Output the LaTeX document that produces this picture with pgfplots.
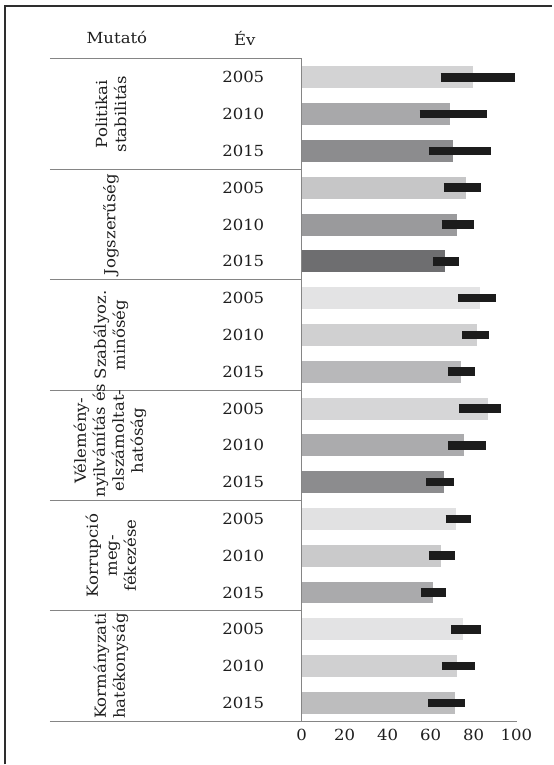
\documentclass[border=0pt]{standalone}
\usepackage{fontspec}
\setmainfont{DejaVu Serif}[FakeStretch=1.08]
\usepackage{pgfplots}
\pgfplotsset{compat=1.18}
\usetikzlibrary{calc}
\definecolor{g1}{HTML}{D3D3D4}
\definecolor{g2}{HTML}{A8A8AA}
\definecolor{g3}{HTML}{8C8C8E}
\definecolor{g4}{HTML}{C6C6C7}
\definecolor{g5}{HTML}{9A9A9C}
\definecolor{g6}{HTML}{6E6E70}
\definecolor{g7}{HTML}{E3E3E4}
\definecolor{g8}{HTML}{D0D0D1}
\definecolor{g9}{HTML}{B8B8BA}
\definecolor{g10}{HTML}{D6D6D7}
\definecolor{g11}{HTML}{ABABAD}
\definecolor{g12}{HTML}{8C8C8E}
\definecolor{g13}{HTML}{E1E1E2}
\definecolor{g14}{HTML}{CACACB}
\definecolor{g15}{HTML}{AAAAAC}
\definecolor{g16}{HTML}{E3E3E4}
\definecolor{g17}{HTML}{D0D0D1}
\definecolor{g18}{HTML}{BDBDBE}
\definecolor{rng}{HTML}{1C1C1C}
\definecolor{framec}{HTML}{2E2E2E}
\definecolor{tablec}{HTML}{858585}
\definecolor{txt}{HTML}{1E1E1E}
\begin{document}
\begin{tikzpicture}[font=\fontsize{15.3}{19}\selectfont]
\begin{axis}[name=ax,
  scale only axis, width=215pt, height=663pt,
  xmin=0, xmax=100, ymin=0, ymax=18, y dir=reverse,
  axis line style={draw=none}, tick style={draw=none}, major tick length=0pt,
  clip=false,
  xtick={0,20,40,60,80,100},
  ytick={0.5,1.5,...,17.5},
  yticklabels={2005,2010,2015,2005,2010,2015,2005,2010,2015,2005,2010,2015,2005,2010,2015,2005,2010,2015},
  tick label style={font=\fontsize{15.3}{18}\selectfont, text=txt},
  /pgf/number format/assume math mode=true,
  xticklabel style={yshift=-4pt},
  yticklabel style={anchor=center, xshift=-58.5pt},
  gbar/.style={xbar, bar width=22pt, bar shift=0pt, draw=none, fill=#1},
]
\addplot[gbar=g1]  coordinates {(79.7,0.5)};
\addplot[gbar=g2]  coordinates {(69.0,1.5)};
\addplot[gbar=g3]  coordinates {(70.6,2.5)};
\addplot[gbar=g4]  coordinates {(76.7,3.5)};
\addplot[gbar=g5]  coordinates {(72.1,4.5)};
\addplot[gbar=g6]  coordinates {(66.8,5.5)};
\addplot[gbar=g7]  coordinates {(83.1,6.5)};
\addplot[gbar=g8]  coordinates {(81.4,7.5)};
\addplot[gbar=g9]  coordinates {(74.3,8.5)};
\addplot[gbar=g10] coordinates {(86.8,9.5)};
\addplot[gbar=g11] coordinates {(75.5,10.5)};
\addplot[gbar=g12] coordinates {(66.2,11.5)};
\addplot[gbar=g13] coordinates {(72.0,12.5)};
\addplot[gbar=g14] coordinates {(65.0,13.5)};
\addplot[gbar=g15] coordinates {(61.1,14.5)};
\addplot[gbar=g16] coordinates {(75.2,15.5)};
\addplot[gbar=g17] coordinates {(72.4,16.5)};
\addplot[gbar=g18] coordinates {(71.3,17.5)};
\addplot[rng, line width=8.5pt, mark=none, unbounded coords=jump] table {
x y
64.7 0.5
99.2 0.5
nan nan
54.9 1.5
86.5 1.5
nan nan
59.2 2.5
87.9 2.5
nan nan
66.2 3.5
83.4 3.5
nan nan
65.1 4.5
80.3 4.5
nan nan
61.3 5.5
73.3 5.5
nan nan
73.0 6.5
90.4 6.5
nan nan
74.7 7.5
87.0 7.5
nan nan
67.9 8.5
80.9 8.5
nan nan
73.2 9.5
92.6 9.5
nan nan
68.2 10.5
85.6 10.5
nan nan
58.0 11.5
71.0 11.5
nan nan
67.0 12.5
78.7 12.5
nan nan
59.2 13.5
71.6 13.5
nan nan
55.5 14.5
67.0 14.5
nan nan
69.6 15.5
83.3 15.5
nan nan
65.3 16.5
80.6 16.5
nan nan
58.9 17.5
76.0 17.5
};
\end{axis}
\begin{scope}[shift={($(ax.south west)+(-302pt,722pt)$)}, x=1pt, y=-1pt]
  \path (0,0) rectangle (553,765);
  \draw[framec, line width=1.5pt] (5,765) -- (5,6) -- (553,6);
  \draw[tablec, line width=1.1pt] (50,59) -- (302,59) -- (302,722);
  \foreach \yy in {169.5,280,390.5,501,611.5}
    \draw[tablec, line width=1.1pt] (50,\yy) -- (302,\yy);
  \draw[tablec, line width=1.1pt] (50,722) -- (518,722);
  \node[text=txt] at (117,38) {Mutató};
  \node[text=txt] at (245,38) {Év};
  \node[text=txt, rotate=90, align=center] at (111,114.25) {Politikai\\stabilitás};
  \node[text=txt, rotate=90, align=center] at (111,224.75) {Jogszerűség};
  \node[text=txt, rotate=90, align=center] at (111,335.25) {Szabályoz.\\minőség};
  \node[text=txt, rotate=90, align=center] at (110,441) {Vélemény-\\nyilvánítás és\\elszámoltat-\\hatóság};
  \node[text=txt, rotate=90, align=center] at (111,556.25) {Korrupció\\meg-\\fékezése};
  \node[text=txt, rotate=90, align=center] at (111,666.75) {Kormányzati\\hatékonyság};
\end{scope}
\end{tikzpicture}
\end{document}
